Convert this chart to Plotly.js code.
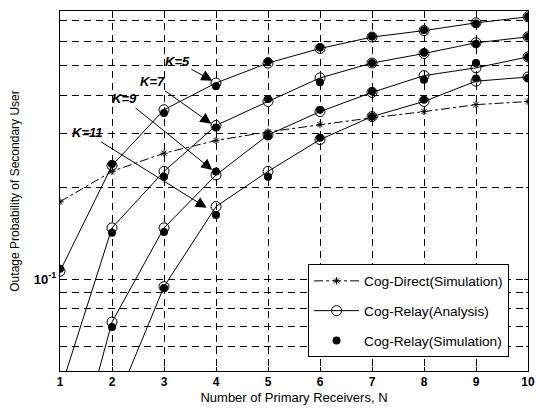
<!DOCTYPE html>
<html>
<head>
<meta charset="utf-8">
<script src="https://cdn.plot.ly/plotly-3.0.1.min.js"></script>
<style>
  html, body { margin: 0; padding: 0; background: #fff; }
  #chart { width: 536px; height: 409px; }
</style>
</head>
<body>
<div id="chart"></div>
<script>
// ---- data ----
const N = [1, 2, 3, 4, 5, 6, 7, 8, 9, 10];

const directSim = [0.179, 0.225, 0.258, 0.284, 0.303, 0.320, 0.337, 0.353, 0.372, 0.381];

const relayAnaK5  = [0.106, 0.235, 0.358, 0.438, 0.509, 0.568, 0.619, 0.650, 0.689, 0.721];
const relayAnaK7  = [0.043, 0.147, 0.225, 0.318, 0.381, 0.455, 0.509, 0.547, 0.593, 0.620];
const relayAnaK9  = [0.017, 0.0723, 0.147, 0.219, 0.296, 0.353, 0.408, 0.463, 0.491, 0.533];
const relayAnaK11 = [0.010, 0.0366, 0.0944, 0.1726, 0.225, 0.286, 0.340, 0.381, 0.444, 0.458];

const relaySimK5  = [0.108, 0.238, 0.349, 0.427, 0.516, 0.572, 0.622, 0.652, 0.686, 0.722];
const relaySimK7  = [0.042, 0.1416, 0.216, 0.313, 0.388, 0.440, 0.509, 0.550, 0.589, 0.620];
const relaySimK9  = [0.016, 0.0696, 0.1426, 0.225, 0.294, 0.358, 0.411, 0.449, 0.509, 0.533];
const relaySimK11 = [0.010, 0.036, 0.0934, 0.162, 0.216, 0.290, 0.340, 0.386, 0.453, 0.455];

const curveLabels = ['K=5', 'K=7', 'K=9', 'K=11'];
const yMajorVals = [0.1];
const yMajorText = ['10<sup>-1</sup>'];
const yMinorVals = [0.05, 0.06, 0.07, 0.08, 0.09, 0.2, 0.3, 0.4, 0.5, 0.6, 0.7];
const xTickVals = N;

// ---- traces ----
const FONT = 'Liberation Sans, Arial, sans-serif';
const traces = [];

traces.push({
  x: N, y: directSim, name: 'Cog-Direct(Simulation)', type: 'scatter', mode: 'lines+markers',
  line: { color: '#000', width: 1, dash: 'dashdot' },
  marker: { symbol: 'asterisk-open', size: 6, color: '#000', line: { color: '#000', width: 1 } },
  showlegend: true, legendrank: 1, legendgroup: 'direct'
});

const anaSets = [relayAnaK5, relayAnaK7, relayAnaK9, relayAnaK11];
const simSets = [relaySimK5, relaySimK7, relaySimK9, relaySimK11];

anaSets.forEach((ys, i) => {
  traces.push({
    x: N, y: ys, name: 'Cog-Relay(Analysis)', type: 'scatter', mode: 'lines+markers',
    line: { color: '#000', width: 1 },
    marker: { symbol: 'circle-open', size: 10, color: '#000', line: { color: '#000', width: 1 } },
    showlegend: i === 0, legendrank: 2, legendgroup: 'ana'
  });
});
simSets.forEach((ys, i) => {
  traces.push({
    x: N, y: ys, name: 'Cog-Relay(Simulation)', type: 'scatter', mode: 'markers',
    marker: { symbol: 'circle', size: 8, color: '#000' },
    showlegend: i === 0, legendrank: 3, legendgroup: 'sim'
  });
});

// ---- annotations for K labels (tip at the curve, text offset in pixels) ----
const annPos = [
  { x: 3.93, y: -0.351, ax: -35, ay: -19 },
  { x: 3.91, y: -0.492, ax: -59, ay: -42 },
  { x: 3.93, y: -0.643, ax: -88, ay: -71 },
  { x: 3.82, y: -0.767, ax: -120, ay: -75 }
];
const annotations = curveLabels.map((t, i) => ({
  x: annPos[i].x, y: annPos[i].y, xref: 'x', yref: 'y',
  ax: annPos[i].ax, ay: annPos[i].ay,
  text: '<i><b>' + t + '</b></i>', showarrow: true,
  arrowhead: 2, arrowsize: 2.2, arrowwidth: 1, arrowcolor: '#000',
  font: { family: FONT, size: 13, color: '#000' }
}));

const gridStyle = { gridcolor: '#000', gridwidth: 1, griddash: '7px,5px' };

const layout = {
  width: 536, height: 409,
  margin: { l: 60, r: 8, t: 11, b: 38 },
  paper_bgcolor: '#fff', plot_bgcolor: '#fff',
  font: { family: FONT, size: 12, color: '#000' },
  showlegend: true,
  legend: {
    x: 0.53, y: 0.296, xanchor: 'left', yanchor: 'top',
    bgcolor: '#fff', bordercolor: '#000', borderwidth: 1,
    font: { family: FONT, size: 13.7, color: '#000' },
    itemwidth: 45, tracegroupgap: 9
  },
  xaxis: Object.assign({
    range: [1, 10], tickmode: 'array', tickvals: xTickVals, ticktext: xTickVals.map(String),
    showgrid: true,
    showline: true, linecolor: '#000', linewidth: 1, mirror: 'ticks',
    ticks: 'inside', ticklen: 4, tickcolor: '#000',
    tickfont: { family: FONT, size: 12, weight: 'bold', color: '#000' },
    ticklabeloverflow: 'allow',
    zeroline: false,
    title: { text: 'Number of Primary Receivers, N', font: { family: FONT, size: 13, color: '#000' }, standoff: 4 }
  }, gridStyle),
  yaxis: Object.assign({
    type: 'log', range: [Math.log10(0.05), -0.123],
    tickmode: 'array', tickvals: yMajorVals, ticktext: yMajorText,
    showgrid: true,
    showline: true, linecolor: '#000', linewidth: 1, mirror: 'ticks',
    ticks: 'inside', ticklen: 4, tickcolor: '#000',
    tickfont: { family: FONT, size: 13, weight: 'bold', color: '#000' },
    zeroline: false,
    minor: Object.assign({ tickmode: 'array', tickvals: yMinorVals, showgrid: true, ticks: 'inside', ticklen: 2, tickcolor: '#000' }, gridStyle),
    title: { text: 'Outage Probability of Secondary User', font: { family: FONT, size: 12, color: '#000' }, standoff: 11 }
  }, gridStyle),
  annotations: annotations
};

Plotly.newPlot('chart', traces, layout, { displayModeBar: false, staticPlot: true });
</script>
</body>
</html>
